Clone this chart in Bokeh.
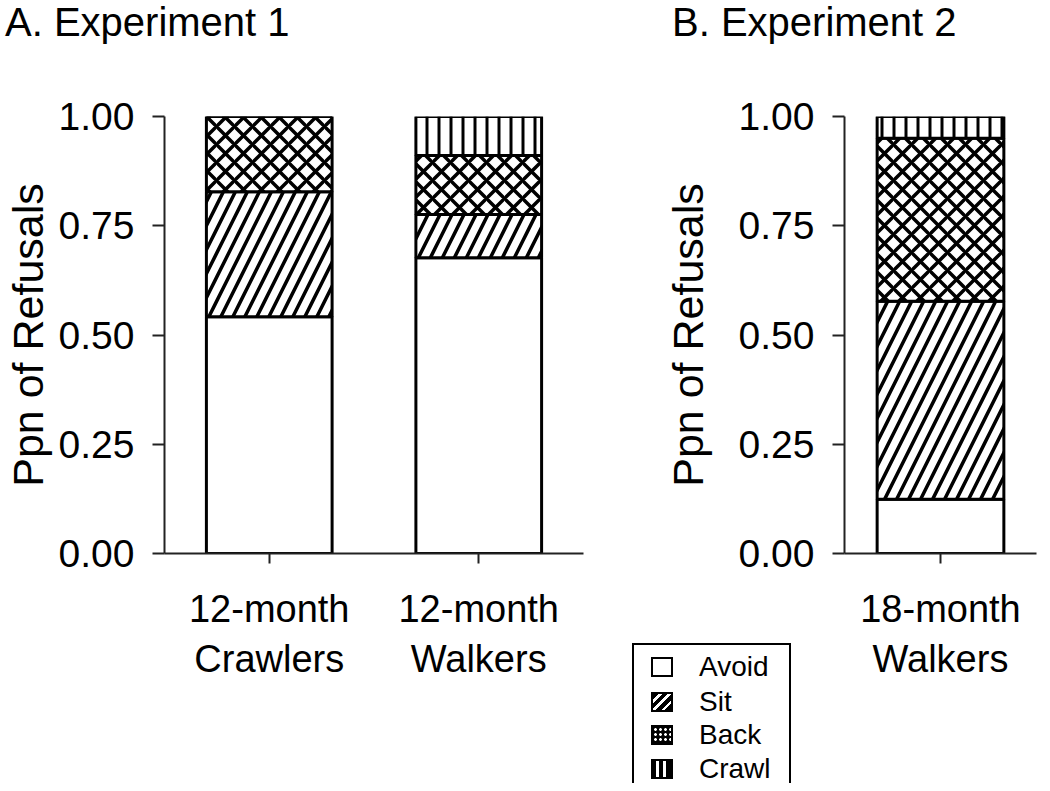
from bokeh.plotting import figure
from bokeh.models import FactorRange, Range1d, FixedTicker, GridBox, Div
from bokeh.embed import file_html
from bokeh.resources import INLINE

FONT = "Liberation Sans"

# ---- data ----
groups1 = ["12-month\nCrawlers", "12-month\nWalkers"]
groups2 = ["18-month\nWalkers"]
kinds = ["Avoid", "Sit", "Back", "Crawl"]
avoid1 = [0.542, 0.677]
sit1 = [0.286, 0.099]
back1 = [0.172, 0.135]
crawl1 = [0.0, 0.089]
avoid2 = [0.124]
sit2 = [0.453]
back2 = [0.373]
crawl2 = [0.050]
yticks = [0.0, 0.25, 0.5, 0.75, 1.0]
ytick_labels = ["0.00", "0.25", "0.50", "0.75", "1.00"]
titles = ["A. Experiment 1", "B. Experiment 2"]

hatches = [" ", "/", "x", "|"]
hscales = [12, 24, 18, 12]
hweights = [1, 3.5, 3.5, 3]

W, H = 1032, 770
W1 = 618
TOP = 116


def make_fig(groups, data, width, ml, mr, bar_w, lab_standoff):
    p = figure(x_range=FactorRange(*groups, range_padding=0), y_range=Range1d(0, 1),
               width=width, height=H, output_backend="svg", toolbar_location=None,
               min_border_left=ml, min_border_right=mr, min_border_top=TOP,
               min_border_bottom=H - TOP - 437)
    p.outline_line_color = None
    p.grid.visible = False
    src = dict(g=groups)
    for k, v in zip(kinds, data):
        src[k] = v
    p.vbar_stack(kinds, x="g", width=bar_w, source=src,
                 fill_color="white", line_color="black", line_width=3,
                 hatch_pattern=hatches, hatch_color="black",
                 hatch_scale=hscales, hatch_weight=hweights)
    ya = p.yaxis[0]
    ya.ticker = FixedTicker(ticks=yticks)
    ya.major_label_overrides = {t: l for t, l in zip(yticks, ytick_labels)}
    ya.minor_tick_line_color = None
    ya.major_tick_out = 12
    ya.major_tick_in = 0
    ya.major_tick_line_width = 2
    ya.axis_line_width = 2
    ya.axis_line_color = "#222222"
    ya.major_tick_line_color = "#222222"
    ya.major_label_text_font = FONT
    ya.major_label_text_font_size = "39px"
    ya.major_label_text_color = "black"
    ya.major_label_standoff = 18
    ya.axis_label = "Ppn of Refusals"
    ya.axis_label_text_font = FONT
    ya.axis_label_text_font_size = "43px"
    ya.axis_label_text_font_style = "normal"
    ya.axis_label_text_color = "black"
    ya.axis_label_standoff = lab_standoff
    xa = p.xaxis[0]
    xa.major_tick_out = 10
    xa.major_tick_in = 0
    xa.major_tick_line_width = 2
    xa.axis_line_width = 2
    xa.axis_line_color = "#222222"
    xa.major_tick_line_color = "#222222"
    xa.minor_tick_line_color = None
    xa.major_label_text_font = FONT
    xa.major_label_text_font_size = "38px"
    xa.major_label_text_color = "black"
    xa.major_label_standoff = 24
    xa.major_label_text_line_height = 1.2
    return p


p1 = make_fig(groups1, [avoid1, sit1, back1, crawl1], W1, 162, 35, 0.6, 4)
p2 = make_fig(groups2, [avoid2, sit2, back2, crawl2], W - W1, 221, 1, 0.66, 24)

# ---- overlay with panel titles and the shared legend (HTML) ----
sw_base = ("position:absolute;left:17px;width:22px;height:20px;box-sizing:border-box;"
           "border:2.5px solid #000;")
swatches = [
    "background:#fff;",
    "background:repeating-linear-gradient(135deg,#000 0 4px,#fff 4px 6.5px);",
    "background-color:#000;background-image:radial-gradient(circle,#fff 1px,"
    "transparent 1.7px);background-size:5px 5px;",
    "background:linear-gradient(90deg,#000 0 3.5px,#fff 3.5px 6.5px,#000 6.5px 10.5px,"
    "#fff 10.5px 13.5px,#000 13.5px);",
]
rows_y = [22, 57, 90, 124]
items = ""
for k, sw, cy in zip(kinds, swatches, rows_y):
    items += (f'<div style="{sw_base}{sw}top:{cy - 10}px;"></div>'
              f'<div style="position:absolute;left:65px;top:{cy - 16}px;'
              f'font-size:28px;line-height:32px;color:#000;">{k}</div>')

html = (
    f'<div style="position:relative;width:{W}px;height:{H - 10}px;'
    f'font-family:\'{FONT}\';pointer-events:none;">'
    f'<div style="position:absolute;left:0px;top:1px;font-size:40px;'
    f'line-height:32px;white-space:nowrap;color:#000;">{titles[0]}</div>'
    f'<div style="position:absolute;left:667px;top:1px;font-size:40px;'
    f'line-height:32px;white-space:nowrap;color:#000;">{titles[1]}</div>'
    f'<div style="position:absolute;left:627px;top:638px;width:159px;height:140px;'
    f'box-sizing:border-box;border:2px solid #000;border-bottom:none;'
    f'background:#fff;overflow:hidden;">{items}</div>'
    f'</div>'
)
ov = Div(text=html, width=W, height=H - 10)

layout = GridBox(children=[(p1, 0, 0), (p2, 0, 1), (ov, 0, 0, 1, 2)])
open("out.html", "w").write(file_html(layout, INLINE))
